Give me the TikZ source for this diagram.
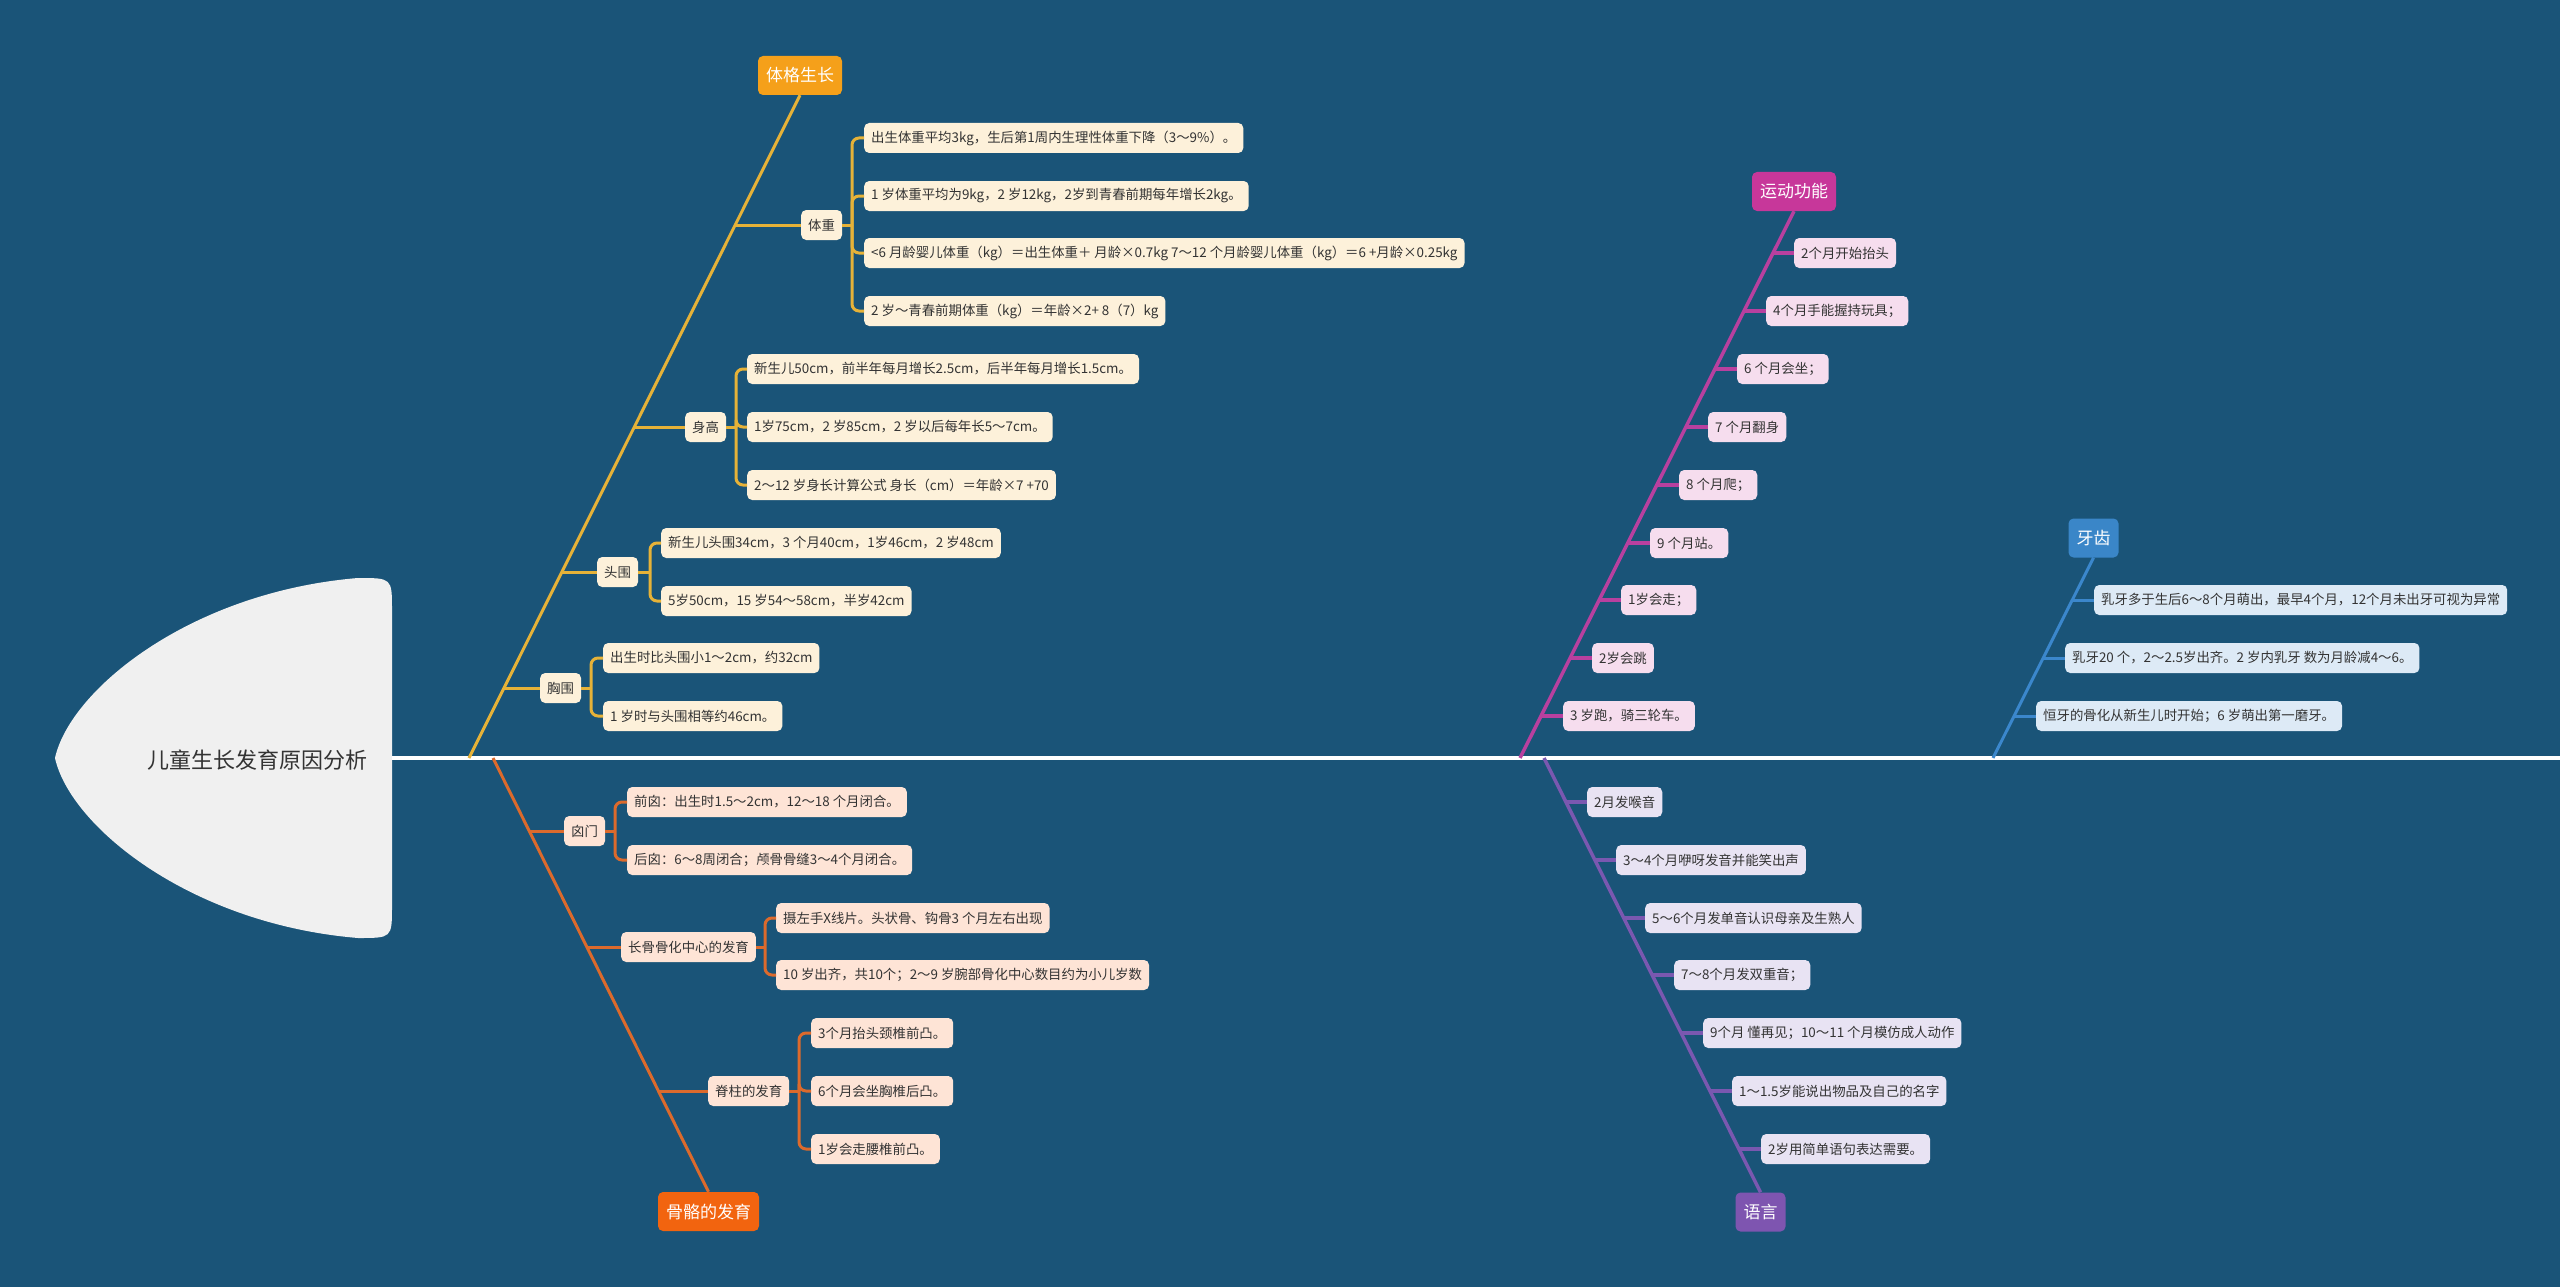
\documentclass[tikz,border=0pt]{standalone}
\usepackage{fontspec}
\newfontfamily\cjk{Noto Sans CJK SC}
\definecolor{bg}{HTML}{1A5478}
\definecolor{headfill}{HTML}{F0F0F0}
\definecolor{leaftext}{HTML}{333333}
\definecolor{gcol}{HTML}{E6B238}
\definecolor{gcat}{HTML}{F5A01A}
\definecolor{gfill}{HTML}{FDF1DA}
\definecolor{bcol}{HTML}{DC6A2C}
\definecolor{bcat}{HTML}{F2640F}
\definecolor{bfill}{HTML}{FEE4D6}
\definecolor{mcol}{HTML}{B8409F}
\definecolor{mcat}{HTML}{C7379A}
\definecolor{mfill}{HTML}{F6DDEE}
\definecolor{tcol}{HTML}{3B87CC}
\definecolor{tcat}{HTML}{3A86C8}
\definecolor{tfill}{HTML}{DDEAF6}
\definecolor{pcol}{HTML}{7A58B0}
\definecolor{pcat}{HTML}{7E55B0}
\definecolor{pfill}{HTML}{E8E3F3}
\begin{document}
\begin{tikzpicture}[x=1pt,y=-1pt,
  leaf/.style={rounded corners=5pt, minimum height=30pt, inner xsep=7pt, inner ysep=0pt, anchor=west, font=\cjk\fontsize{13.4}{15}\selectfont, text=leaftext},
  gleaf/.style={leaf, fill=gfill},
  bleaf/.style={leaf, fill=bfill},
  mleaf/.style={leaf, fill=mfill},
  tleaf/.style={leaf, fill=tfill},
  pleaf/.style={leaf, fill=pfill},
  cat/.style={rounded corners=5pt, minimum height=39pt, inner xsep=8pt, inner ysep=0pt, font=\cjk\fontsize{17}{20}\selectfont, text=white},
  gline/.style={draw=gcol, line width=3pt},
  bline/.style={draw=bcol, line width=3pt},
  mline/.style={draw=mcol, line width=3.5pt},
  tline/.style={draw=tcol, line width=3pt},
  pline/.style={draw=pcol, line width=3.5pt},
  brk/.style={rounded corners=7pt}
]
\fill[bg] (0,0) rectangle (2560,1287);
\useasboundingbox (0,0) rectangle (2560,1287);

% head
\fill[headfill] (392,758) -- (392,610) .. controls (392,578) .. (358,578)
  .. controls (190,592) and (70,690) .. (55,758)
  .. controls (70,826) and (190,924) .. (358,938)
  .. controls (392,938) .. (392,906) -- cycle;
\node[font=\cjk\fontsize{22}{26}\selectfont, text=leaftext] (head) at (257,760) {儿童生长发育原因分析};
\coordinate (spS) at (392,758);
\coordinate (spE) at (2560,758);
\draw[white, line width=3.5pt] (spS) -- (spE);

% ---------- 体格生长 ----------
\node[cat, fill=gcat] (cg) at (800,75.5) {体格生长};
\coordinate (sg) at (469,758);
\draw[gline] (sg) -- (cg.south);
\coordinate (jg1) at (735,225);
\coordinate (jg2) at (634,427);
\coordinate (jg3) at (562,572);
\coordinate (jg4) at (504,688);
\node[gleaf] (lw) at (801,225) {体重};
\node[gleaf] (lh) at (685,427) {身高};
\node[gleaf] (lt) at (597,572) {头围};
\node[gleaf] (lc) at (540,688) {胸围};
\draw[gline] (jg1) -- (lw.west);
\draw[gline] (jg2) -- (lh.west);
\draw[gline] (jg3) -- (lt.west);
\draw[gline] (jg4) -- (lc.west);
\node[gleaf] (w1) at (864,138) {出生体重平均3kg，生后第1周内生理性体重下降（3～9\%）。};
\node[gleaf] (w2) at (864,196) {1 岁体重平均为9kg，2 岁12kg，2岁到青春前期每年增长2kg。};
\node[gleaf] (w3) at (864,253) {<6 月龄婴儿体重（kg）＝出生体重＋ 月龄×0.7kg 7～12 个月龄婴儿体重（kg）＝6 +月龄×0.25kg};
\node[gleaf] (w4) at (864,311) {2 岁～青春前期体重（kg）＝年龄×2+ 8（7）kg};
\coordinate (bw) at (852,225);
\draw[gline] (lw.east) -- (bw);
\foreach \n in {w1,w2,w3,w4} \draw[gline,brk] (bw) |- (\n.west);
\node[gleaf] (h1) at (747,369) {新生儿50cm，前半年每月增长2.5cm，后半年每月增长1.5cm。};
\node[gleaf] (h2) at (747,427) {1岁75cm，2 岁85cm，2 岁以后每年长5～7cm。};
\node[gleaf] (h3) at (747,485) {2～12 岁身长计算公式 身长（cm）＝年龄×7 +70};
\coordinate (bh) at (736,427);
\draw[gline] (lh.east) -- (bh);
\foreach \n in {h1,h2,h3} \draw[gline,brk] (bh) |- (\n.west);
\node[gleaf] (t1) at (661,543) {新生儿头围34cm，3 个月40cm，1岁46cm，2 岁48cm};
\node[gleaf] (t2) at (661,601) {5岁50cm，15 岁54～58cm，半岁42cm};
\coordinate (bt) at (650,572);
\draw[gline] (lt.east) -- (bt);
\foreach \n in {t1,t2} \draw[gline,brk] (bt) |- (\n.west);
\node[gleaf] (c1) at (603,658) {出生时比头围小1～2cm，约32cm};
\node[gleaf] (c2) at (603,716) {1 岁时与头围相等约46cm。};
\coordinate (bc) at (591,688);
\draw[gline] (lc.east) -- (bc);
\foreach \n in {c1,c2} \draw[gline,brk] (bc) |- (\n.west);

% ---------- 骨骼的发育 ----------
\node[cat, fill=bcat] (cb) at (708.5,1211.5) {骨骼的发育};
\coordinate (sb) at (493,758);
\draw[bline] (sb) -- (cb.north);
\coordinate (jb1) at (529,831);
\coordinate (jb2) at (587,947);
\coordinate (jb3) at (658,1091);
\node[bleaf] (lf) at (564,831) {囟门};
\node[bleaf] (lo) at (621,947) {长骨骨化中心的发育};
\node[bleaf] (ls) at (708,1091) {脊柱的发育};
\draw[bline] (jb1) -- (lf.west);
\draw[bline] (jb2) -- (lo.west);
\draw[bline] (jb3) -- (ls.west);
\node[bleaf] (f1) at (627,802) {前囟：出生时1.5～2cm，12～18 个月闭合。};
\node[bleaf] (f2) at (627,860) {后囟：6～8周闭合；颅骨骨缝3～4个月闭合。};
\coordinate (bf) at (615,831);
\draw[bline] (lf.east) -- (bf);
\foreach \n in {f1,f2} \draw[bline,brk] (bf) |- (\n.west);
\node[bleaf] (o1) at (776,918) {摄左手X线片。头状骨、钩骨3 个月左右出现};
\node[bleaf] (o2) at (776,975) {10 岁出齐，共10个；2～9 岁腕部骨化中心数目约为小儿岁数};
\coordinate (bo) at (765,947);
\draw[bline] (lo.east) -- (bo);
\foreach \n in {o1,o2} \draw[bline,brk] (bo) |- (\n.west);
\node[bleaf] (s1) at (811,1033) {3个月抬头颈椎前凸。};
\node[bleaf] (s2) at (811,1091) {6个月会坐胸椎后凸。};
\node[bleaf] (s3) at (811,1149) {1岁会走腰椎前凸。};
\coordinate (bs) at (799,1091);
\draw[bline] (ls.east) -- (bs);
\foreach \n in {s1,s2,s3} \draw[bline,brk] (bs) |- (\n.west);

% ---------- 运动功能 ----------
\node[cat, fill=mcat] (cm) at (1794,191.5) {运动功能};
\coordinate (sm) at (1520,758);
\draw[mline] (sm) -- (cm.south);
\node[mleaf] (m1) at (1794,253) {2个月开始抬头};
\node[mleaf] (m2) at (1766,311) {4个月手能握持玩具；};
\node[mleaf] (m3) at (1737,369) {6 个月会坐；};
\node[mleaf] (m4) at (1708,427) {7 个月翻身};
\node[mleaf] (m5) at (1679,485) {8 个月爬；};
\node[mleaf] (m6) at (1650,543) {9 个月站。};
\node[mleaf] (m7) at (1621,600) {1岁会走；};
\node[mleaf] (m8) at (1592,658) {2岁会跳};
\node[mleaf] (m9) at (1563,716) {3 岁跑，骑三轮车。};
\coordinate (jm1) at (1772,253);
\coordinate (jm2) at (1743,311);
\coordinate (jm3) at (1714,369);
\coordinate (jm4) at (1685,427);
\coordinate (jm5) at (1656,485);
\coordinate (jm6) at (1627,543);
\coordinate (jm7) at (1599,600);
\coordinate (jm8) at (1570,658);
\coordinate (jm9) at (1541,716);
\foreach \i in {1,...,9} \draw[mline] (jm\i) -- (m\i.west);

% ---------- 牙齿 ----------
\node[cat, fill=tcat] (ct) at (2093.5,538) {牙齿};
\coordinate (st) at (1993,758);
\draw[tline] (st) -- (ct.south);
\node[tleaf] (d1) at (2094,600) {乳牙多于生后6～8个月萌出，最早4个月，12个月未出牙可视为异常};
\node[tleaf] (d2) at (2065,658) {乳牙20 个，2～2.5岁出齐。2 岁内乳牙 数为月龄减4～6。};
\node[tleaf] (d3) at (2036,716) {恒牙的骨化从新生儿时开始；6 岁萌出第一磨牙。};
\coordinate (jd1) at (2073,600);
\coordinate (jd2) at (2044,658);
\coordinate (jd3) at (2014,716);
\foreach \i in {1,2,3} \draw[tline] (jd\i) -- (d\i.west);

% ---------- 语言 ----------
\node[cat, fill=pcat] (cp) at (1760.5,1212) {语言};
\coordinate (sp) at (1544,758);
\draw[pline] (sp) -- (cp.north);
\node[pleaf] (p1) at (1587,802) {2月发喉音};
\node[pleaf] (p2) at (1616,860) {3～4个月咿呀发音并能笑出声};
\node[pleaf] (p3) at (1645,918) {5～6个月发单音认识母亲及生熟人};
\node[pleaf] (p4) at (1674,975) {7～8个月发双重音；};
\node[pleaf] (p5) at (1703,1033) {9个月 懂再见；10～11 个月模仿成人动作};
\node[pleaf] (p6) at (1732,1091) {1～1.5岁能说出物品及自己的名字};
\node[pleaf] (p7) at (1761,1149) {2岁用简单语句表达需要。};
\coordinate (jp1) at (1566,802);
\coordinate (jp2) at (1595,860);
\coordinate (jp3) at (1624,918);
\coordinate (jp4) at (1652,975);
\coordinate (jp5) at (1681,1033);
\coordinate (jp6) at (1710,1091);
\coordinate (jp7) at (1739,1149);
\foreach \i in {1,...,7} \draw[pline] (jp\i) -- (p\i.west);
\end{tikzpicture}
\end{document}
